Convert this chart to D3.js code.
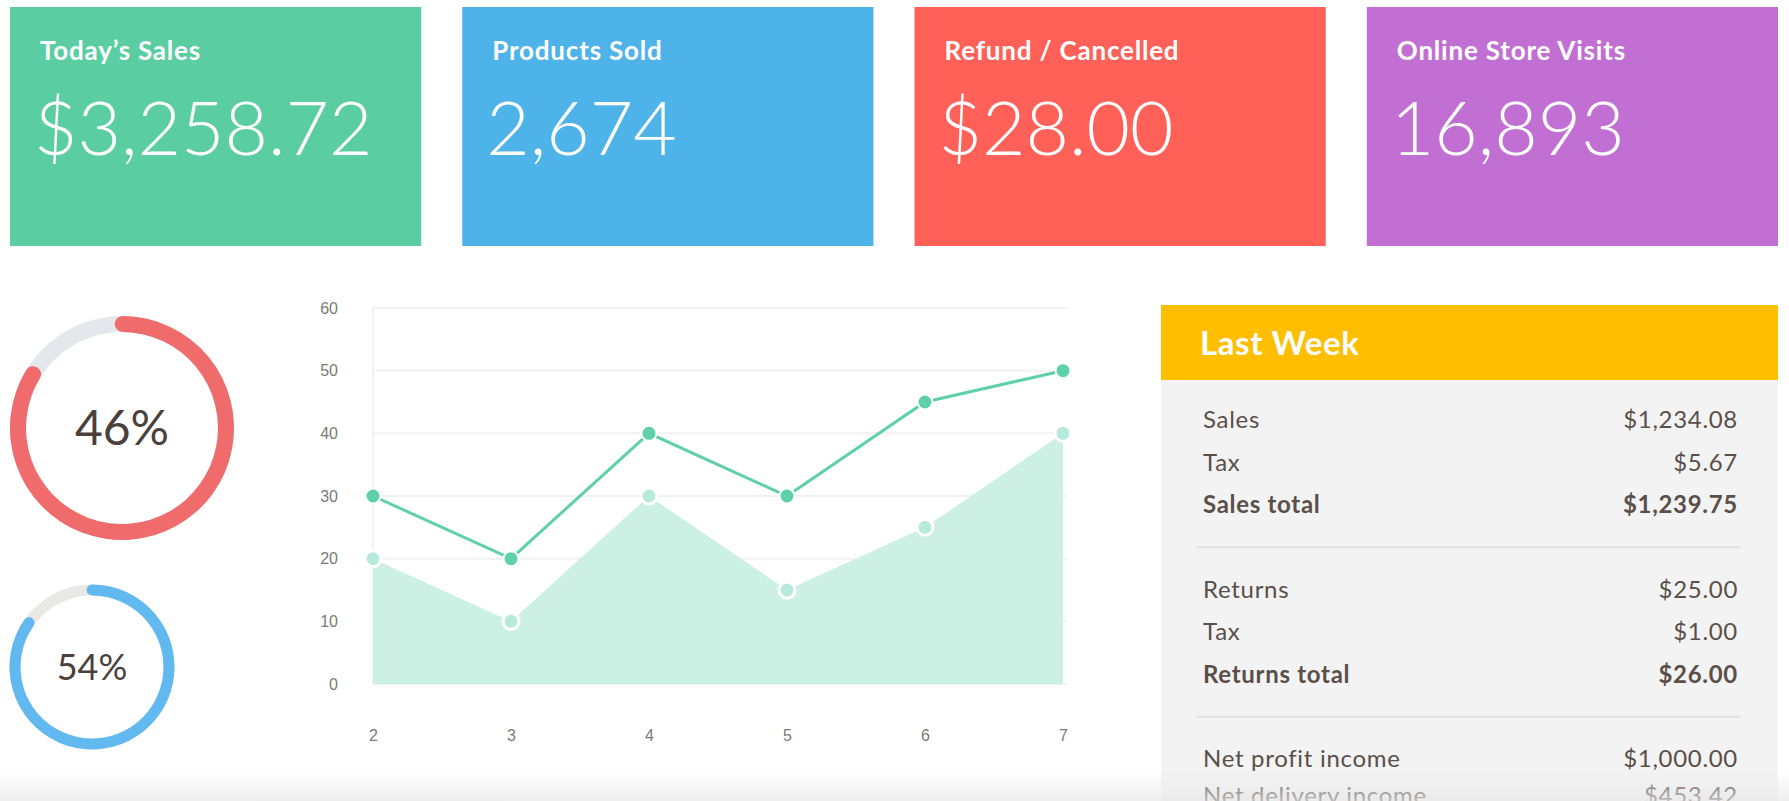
<!DOCTYPE html>
<html><head><meta charset="utf-8">
<script src="https://cdn.jsdelivr.net/npm/d3@7"></script>
<style>
html,body{margin:0;padding:0;background:#fff;}
svg{display:block;}
</style></head>
<body>
<svg id="chart" width="1789" height="801"></svg>
<script>
// ---- data ----
const cardTitles = ["Today\u2019s Sales", "Products Sold", "Refund / Cancelled", "Online Store Visits"];
const cardValues = ["$3,258.72", "2,674", "$28.00", "16,893"];
const cardColors = ["#5bcda3", "#4eb3e9", "#ff6159", "#c26fd3"];

const ringLabels = ["46%", "54%"];
const ringFill = [0.86, 0.87];
const ringColors = ["#ef6b6c", "#62b9ef"];
const ringTrack = ["#e4e8ec", "#e9e8e4"];

const xCategories = [2, 3, 4, 5, 6, 7];
const lineSeries = [30, 20, 40, 30, 45, 50];
const areaSeries = [20, 10, 30, 15, 25, 40];
const yTicks = [0, 10, 20, 30, 40, 50, 60];

const weekTitle = "Last Week";
const weekLabels = ["Sales", "Tax", "Sales total", "Returns", "Tax", "Returns total", "Net profit income", "Net delivery income"];
const weekValues = ["$1,234.08", "$5.67", "$1,239.75", "$25.00", "$1.00", "$26.00", "$1,000.00", "$453.42"];
const weekBold = [false, false, true, false, false, true, false, false];
const weekGroup = [0, 0, 0, 1, 1, 1, 2, 2];

// ---- drawing ----
const svg = d3.select("#chart");
const W = 1789, H = 801;

// cards
const cardX = d3.scaleBand().domain(d3.range(4)).range([10, 1778]).paddingInner(0.0908).paddingOuter(0);
const cards = svg.selectAll("g.card").data(cardTitles).join("g")
  .attr("class", "card")
  .attr("transform", (d, i) => `translate(${cardX(i)},7)`);
cards.append("rect").attr("width", cardX.bandwidth()).attr("height", 239)
  .attr("fill", (d, i) => cardColors[i]);
cards.append("text").attr("x", 30).attr("y", 53)
  .attr("fill", "#fff").attr("font-family", "Lato, sans-serif").attr("font-weight", 700)
  .attr("font-size", 26).attr("letter-spacing", 0.8).text(d => d);
cards.append("text").attr("x", 24).attr("y", 148)
  .attr("fill", "#fff").attr("font-family", "Lato, sans-serif").attr("font-weight", 300)
  .attr("font-size", 75).text((d, i) => cardValues[i]);

// rings
const ringGeom = [{cx: 122, cy: 428, r: 112, t: 16, fs: 48}, {cx: 92, cy: 667, r: 82.5, t: 11, fs: 36}];
const startA = -4 * Math.PI / 180;
ringLabels.forEach((lab, i) => {
  const g = svg.append("g").attr("transform", `translate(${ringGeom[i].cx},${ringGeom[i].cy})`);
  const arc = d3.arc().innerRadius(ringGeom[i].r - ringGeom[i].t).outerRadius(ringGeom[i].r);
  g.append("path").attr("d", arc({startAngle: 0, endAngle: 2 * Math.PI})).attr("fill", ringTrack[i]);
  g.append("path").attr("d", arc.cornerRadius(ringGeom[i].t / 2)({startAngle: startA, endAngle: startA + ringFill[i] * 2 * Math.PI}))
    .attr("fill", ringColors[i]);
  g.append("text").attr("text-anchor", "middle").attr("dy", "0.36em")
    .attr("font-family", "Lato, sans-serif").attr("font-size", ringGeom[i].fs).attr("fill", "#4b403b")
    .text(lab);
});

// line/area chart
const x = d3.scalePoint().domain(xCategories).range([373, 1063]);
const y = d3.scaleLinear().domain([0, 60]).range([684, 308]);
const chart = svg.append("g");
chart.append("g").selectAll("line").data(yTicks).join("line")
  .attr("x1", 373).attr("x2", 1067).attr("y1", d => y(d)).attr("y2", d => y(d))
  .attr("stroke", "#f1f1f1").attr("stroke-width", 2);
chart.append("line").attr("x1", x(2)).attr("x2", x(2)).attr("y1", y(60)).attr("y2", y(0))
  .attr("stroke", "#f1f1f1").attr("stroke-width", 2);

const tickFont = "Liberation Sans, Arial, sans-serif";
const yAxis = d3.axisLeft(y).tickValues(yTicks).tickSize(0).tickPadding(0);
const ya = chart.append("g").attr("transform", "translate(338,0)").call(yAxis);
ya.select(".domain").remove();
ya.selectAll("text").attr("font-family", tickFont).attr("font-size", 16).attr("fill", "#7a7a7a");

const xAxis = d3.axisBottom(x).tickSize(0).tickPadding(0);
const xa = chart.append("g").attr("transform", "translate(0,730)").call(xAxis);
xa.select(".domain").remove();
xa.selectAll("text").attr("font-family", tickFont).attr("font-size", 16).attr("fill", "#7a7a7a");

const area = d3.area().x((d, i) => x(xCategories[i])).y0(y(0)).y1(d => y(d));
chart.append("path").datum(areaSeries).attr("d", area).attr("fill", "#cdf0e4");
const line = d3.line().x((d, i) => x(xCategories[i])).y(d => y(d));
chart.append("path").datum(lineSeries).attr("d", line).attr("fill", "none")
  .attr("stroke", "#5ed0aa").attr("stroke-width", 3);

chart.append("g").selectAll("circle").data(areaSeries).join("circle")
  .attr("cx", (d, i) => x(xCategories[i])).attr("cy", d => y(d)).attr("r", 8)
  .attr("fill", "#b7eadb").attr("stroke", "#fff").attr("stroke-width", 3);
chart.append("g").selectAll("circle").data(lineSeries).join("circle")
  .attr("cx", (d, i) => x(xCategories[i])).attr("cy", d => y(d)).attr("r", 7.5)
  .attr("fill", "#5ed0aa").attr("stroke", "#fff").attr("stroke-width", 2);

// last week panel
const panel = svg.append("g").attr("transform", "translate(1161,305)");
panel.append("rect").attr("width", 617).attr("height", 520).attr("fill", "#f3f3f3");
panel.append("rect").attr("width", 617).attr("height", 75).attr("fill", "#ffbf00");
panel.append("text").attr("x", 39).attr("y", 50).attr("fill", "#fff")
  .attr("font-family", "Lato, sans-serif").attr("font-weight", 700).attr("font-size", 33)
  .attr("letter-spacing", 0.6).text(weekTitle);

const rowY = (i) => 123 + i * 42.5 + weekGroup[i] * 42 - (i === 7 ? 6 : 0);
weekLabels.forEach((lab, i) => {
  const fw = weekBold[i] ? 700 : 400;
  panel.append("text").attr("x", 42).attr("y", rowY(i)).attr("fill", "#5a4f49")
    .attr("font-family", "Lato, sans-serif").attr("font-weight", fw).attr("font-size", 24)
    .attr("letter-spacing", 0.7).text(lab);
  panel.append("text").attr("x", 577).attr("y", rowY(i)).attr("text-anchor", "end").attr("fill", "#5a4f49")
    .attr("font-family", "Lato, sans-serif").attr("font-weight", fw).attr("font-size", 24)
    .attr("letter-spacing", 0.7).text(weekValues[i]);
});
[0, 1].forEach(k => {
  const yy = (rowY(2 + k * 3) + rowY(3 + k * 3)) / 2 - 8;
  panel.append("line").attr("x1", 35).attr("x2", 580).attr("y1", yy).attr("y2", yy)
    .attr("stroke", "#e2e2e2").attr("stroke-width", 2);
});

// bottom fade
const defs = svg.append("defs");
const lg = defs.append("linearGradient").attr("id", "fade").attr("x1", 0).attr("x2", 0).attr("y1", 0).attr("y2", 1);
lg.append("stop").attr("offset", "0%").attr("stop-color", "#eeeeee").attr("stop-opacity", 0);
lg.append("stop").attr("offset", "100%").attr("stop-color", "#e6e6e6").attr("stop-opacity", 0.7);
svg.append("rect").attr("x", 0).attr("y", 768).attr("width", W).attr("height", H - 768).attr("fill", "url(#fade)");
</script>
</body></html>
